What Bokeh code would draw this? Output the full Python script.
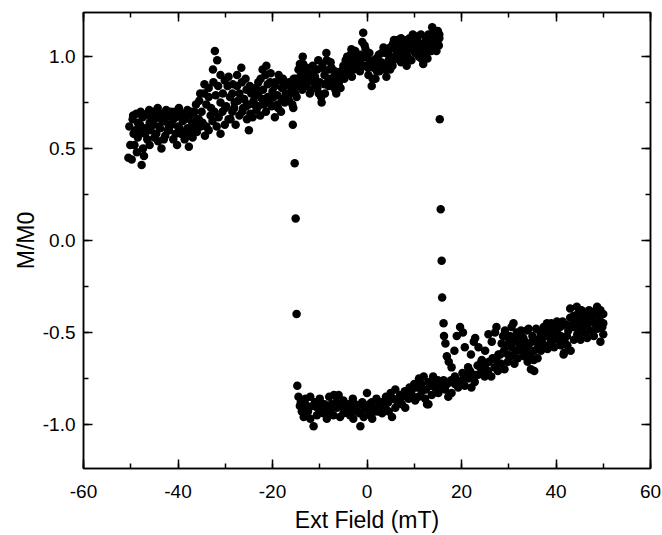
from bokeh.plotting import figure
from bokeh.models import (Range1d, LinearAxis, SingleIntervalTicker, ColumnDataSource,
                          NumeralTickFormatter, CustomJSTickFormatter)
from bokeh.embed import file_html
from bokeh.resources import INLINE

# ---------------- data ----------------
# upper branch, upper edge
up_a_x = [-50.3, -49.6, -48.8, -47.9, -47.0, -46.1, -45.2, -44.3, -43.4, -42.5, -41.6, -40.7, -39.8, -38.9,
          -38.0, -37.1, -36.2, -35.3, -34.4, -33.5, -32.6, -32.2, -31.7, -31.0, -30.1, -29.3, -28.4, -27.5,
          -26.6, -25.7, -24.8, -23.9, -23.0, -22.1, -21.3, -20.4, -19.5, -18.7, -17.8, -16.9, -16.0, -15.1,
          -14.2, -13.6, -12.8, -12.0, -11.1, -10.3, -9.4, -8.6, -7.7, -6.8, -5.9, -5.0, -4.2, -3.3, -2.4,
          -1.6, -0.8, -0.3, 0.5, 1.4, 2.3, 3.1, 4.0, 4.9, 5.7, 6.5, 7.2, 8.0, 8.9, 9.7, 10.6, 11.4, 12.2,
          13.0, 13.8, 14.6, 15.2]
up_a_y = [0.62, 0.66, 0.69, 0.70, 0.68, 0.71, 0.70, 0.72, 0.69, 0.71, 0.68, 0.70, 0.72, 0.69,
          0.71, 0.70, 0.74, 0.80, 0.85, 0.83, 0.93, 1.03, 0.98, 0.90, 0.87, 0.89, 0.85, 0.90,
          0.94, 0.88, 0.84, 0.80, 0.86, 0.93, 0.95, 0.91, 0.86, 0.90, 0.88, 0.85, 0.83, 0.88,
          0.96, 1.00, 0.94, 0.90, 0.93, 0.98, 0.96, 1.02, 0.97, 0.92, 0.88, 0.95, 1.00, 1.04, 0.99,
          0.97, 1.13, 1.04, 0.98, 0.94, 0.97, 1.02, 0.96, 1.05, 1.09, 1.06, 1.10, 1.03, 1.07, 1.12, 1.09, 1.12, 1.01,
          1.08, 1.16, 1.10, 1.06]

# upper branch, between upper edge and middle
up_c_x = [-49.5, -48.5, -47.5, -46.5, -45.5, -44.5, -43.5, -42.5, -41.5, -40.5, -39.5, -38.5, -37.5, -36.5,
          -35.5, -34.5, -33.5, -32.5, -31.5, -30.5, -29.5, -28.5, -27.5, -26.5, -25.5, -24.5, -23.5, -22.5,
          -21.5, -20.5, -19.5, -18.5, -17.5, -16.5, -15.5, -14.5, -13.5, -12.5, -11.5, -10.5, -9.5, -8.5,
          -7.5, -6.5, -5.5, -4.5, -3.5, -2.5, -1.5, -0.5, 0.5, 1.5, 2.5, 3.5, 4.5, 5.5, 6.5, 7.5, 8.5, 9.5,
          10.5, 11.5, 12.5, 13.5, 14.5, 15.3]
up_c_y = [0.68, 0.64, 0.67, 0.69, 0.66, 0.68, 0.66, 0.67, 0.70, 0.67, 0.68, 0.66, 0.68, 0.70,
          0.76, 0.80, 0.78, 0.86, 0.84, 0.80, 0.84, 0.80, 0.84, 0.86, 0.82, 0.80, 0.83, 0.88,
          0.90, 0.86, 0.84, 0.87, 0.84, 0.86, 0.88, 0.93, 0.96, 0.91, 0.95, 0.93, 0.94, 0.98,
          0.94, 0.90, 0.92, 0.98, 1.01, 1.03, 1.01, 1.06, 1.02, 0.98, 1.01, 1.05, 1.03, 1.07, 1.09, 1.06, 1.09, 1.08,
          1.11, 1.07, 1.09, 1.11, 1.14, 1.12]

# upper branch, middle
up_m_x = [-49.0, -48.0, -47.0, -46.0, -45.0, -44.0, -43.0, -42.0, -41.0, -40.0, -39.0, -38.0, -37.0, -36.0,
          -35.0, -34.0, -33.0, -32.0, -31.0, -30.0, -29.0, -28.0, -27.0, -26.0, -25.0, -24.0, -23.0, -22.0,
          -21.0, -20.0, -19.0, -18.0, -17.0, -16.0, -15.0, -14.0, -13.0, -12.0, -11.0, -10.0, -9.0, -8.0,
          -7.0, -6.0, -5.0, -4.0, -3.0, -2.0, -1.0, 0.0, 1.0, 2.0, 3.0, 4.0, 5.0, 6.0, 7.0, 8.0, 9.0, 10.0,
          11.0, 12.0, 13.0, 14.0, 15.0]
up_m_y = [0.60, 0.63, 0.58, 0.64, 0.66, 0.62, 0.65, 0.63, 0.66, 0.62, 0.65, 0.61, 0.64, 0.66,
          0.70, 0.74, 0.72, 0.79, 0.75, 0.72, 0.78, 0.75, 0.80, 0.77, 0.74, 0.76, 0.79, 0.82,
          0.85, 0.81, 0.79, 0.83, 0.78, 0.81, 0.84, 0.90, 0.92, 0.87, 0.89, 0.86, 0.90, 0.93,
          0.89, 0.86, 0.89, 0.96, 0.95, 1.00, 1.08, 1.00, 0.95, 0.99, 0.97, 1.02, 1.00, 1.04, 1.02, 0.98, 1.10, 1.03,
          1.06, 1.05, 1.12, 1.13, 1.14]

# upper branch, between middle and lower edge
up_d_x = [-50.1, -49.4, -48.7, -48.1, -47.4, -46.8, -46.0, -45.3, -44.6, -43.8, -43.0, -42.2, -41.4, -40.5,
          -39.7, -38.8, -38.0, -37.2, -36.4, -35.6, -34.8, -34.0, -33.1, -32.3, -31.4, -30.6, -29.8, -28.9,
          -28.1, -27.3, -26.4, -25.6, -24.7, -23.8, -23.0, -22.2, -21.4, -20.6, -19.8, -19.0, -18.2, -17.4,
          -16.6, -15.8, -15.2, -14.5, -13.7, -12.9, -12.1, -11.3, -10.5, -9.7, -9.0, -8.2, -7.3, -6.5, -5.6,
          -4.8, -4.0, -3.2, -2.3, -1.5, -0.7, 0.2, 1.2, 2.1, 2.9, 3.8, 4.6, 5.4, 6.2, 7.0, 7.8, 8.6, 9.4,
          10.2, 11.0, 11.8, 12.8, 13.6, 14.3, 15.0]
up_d_y = [0.52, 0.58, 0.48, 0.59, 0.50, 0.61, 0.52, 0.63, 0.58, 0.61, 0.55, 0.60, 0.63, 0.58,
          0.61, 0.59, 0.57, 0.60, 0.62, 0.66, 0.64, 0.62, 0.68, 0.70, 0.67, 0.70, 0.73, 0.66,
          0.72, 0.76, 0.70, 0.73, 0.69, 0.74, 0.73, 0.77, 0.70, 0.76, 0.78, 0.74, 0.70, 0.75,
          0.79, 0.74, 0.80, 0.86, 0.82, 0.84, 0.80, 0.87, 0.83, 0.78, 0.85, 0.88, 0.84, 0.80, 0.83,
          0.88, 0.91, 0.89, 0.94, 0.92, 1.00, 0.94, 0.88, 0.92, 0.96, 0.93, 0.98, 0.95, 1.00, 0.99, 1.04, 1.00, 0.98,
          1.02, 1.00, 1.04, 0.99, 1.03, 1.06, 1.09]

# upper branch, lower edge
up_b_x = [-50.5, -49.8, -49.2, -48.5, -47.7, -47.2, -46.5, -45.8, -45.0, -44.2, -43.5, -42.7, -41.9, -41.0,
          -40.2, -39.4, -38.6, -37.7, -36.9, -36.0, -35.2, -34.3, -33.5, -32.7, -31.8, -31.0, -30.1, -29.3,
          -28.5, -27.8, -27.0, -26.2, -25.4, -25.0, -24.2, -23.4, -22.6, -21.8, -21.0, -20.2, -19.5, -18.8,
          -18.0, -17.2, -16.5, -15.6, -14.9, -14.1, -13.4, -12.6, -11.8, -11.0, -10.2, -9.6, -8.9, -8.1,
          -7.4, -6.7, -6.0, -5.2, -4.4, -3.6, -2.8, -2.0, -1.2, -0.5, 0.3, 1.0, 1.8, 2.6, 3.4, 4.1, 4.9,
          5.6, 6.4, 7.2, 7.9, 8.4, 9.2, 10.0, 10.8, 11.5, 11.9, 12.6, 13.3, 14.0, 14.7, 15.3]
up_b_y = [0.45, 0.44, 0.52, 0.56, 0.41, 0.46, 0.55, 0.60, 0.56, 0.54, 0.50, 0.57, 0.60, 0.55,
          0.52, 0.58, 0.55, 0.51, 0.56, 0.59, 0.62, 0.57, 0.60, 0.65, 0.62, 0.58, 0.63, 0.66,
          0.70, 0.63, 0.68, 0.72, 0.66, 0.60, 0.67, 0.71, 0.68, 0.74, 0.78, 0.73, 0.67, 0.72,
          0.77, 0.80, 0.76, 0.72, 0.78, 0.84, 0.88, 0.86, 0.82, 0.85, 0.80, 0.75, 0.80, 0.84,
          0.87, 0.82, 0.85, 0.90, 0.93, 0.97, 0.93, 0.96, 0.99, 0.95, 0.90, 0.84, 0.88, 0.92, 0.95, 0.89, 0.93,
          0.98, 1.01, 0.97, 1.00, 0.95, 1.04, 1.07, 1.04, 0.99, 0.96, 1.02, 1.05, 1.08, 1.03, 1.10]

# switching points
sw_x = [-15.7, -15.3, -15.1, -14.9, -14.75, 15.4, 15.6, 15.8, 15.9, 16.2]
sw_y = [0.63, 0.42, 0.12, -0.40, -0.79, 0.66, 0.17, -0.11, -0.31, -0.45]

# lower branch, lower edge
lo_c_x = [-14.5, -13.8, -13.4, -12.7, -12.0, -11.3, -10.6, -9.9, -9.2, -8.5, -7.8, -7.1, -6.4, -5.7,
          -5.0, -4.3, -3.6, -2.9, -2.1, -1.4, -0.7, 0.0, 0.7, 1.1, 1.8, 2.5, 3.2, 3.9, 4.6, 5.3, 6.0,
          6.7, 7.4, 8.1, 8.8, 9.5, 10.2, 10.9, 11.6, 12.3, 13.0, 13.7, 14.4, 15.1, 15.8, 16.5, 17.2,
          17.9, 18.6, 19.3, 20.0, 20.7, 21.4, 22.1, 22.8, 23.5, 24.2, 24.9, 25.6, 26.3, 27.0, 27.7,
          28.4, 29.1, 29.8, 30.5, 31.2, 31.9, 32.6, 33.3, 34.0, 34.7, 35.4, 36.1, 36.8, 37.5, 38.2,
          38.9, 39.6, 40.3, 41.0, 41.7, 42.4, 43.1, 43.8, 44.5, 45.2, 45.9, 46.6, 47.3, 48.0, 48.7,
          49.4, 50.0]
lo_c_y = [-0.85, -0.93, -0.96, -0.90, -0.97, -1.01, -0.95, -0.92, -0.94, -0.97, -0.93, -0.95, -0.91, -0.96,
          -0.94, -0.92, -0.95, -0.97, -0.93, -1.01, -0.96, -0.92, -0.95, -0.97, -0.93, -0.90, -0.94, -0.91, -0.93, -0.96, -0.91,
          -0.87, -0.89, -0.91, -0.86, -0.84, -0.87, -0.85, -0.82, -0.86, -0.89, -0.84, -0.80, -0.83, -0.79, -0.81, -0.85,
          -0.83, -0.78, -0.80, -0.76, -0.79, -0.75, -0.80, -0.77, -0.73, -0.70, -0.74, -0.71, -0.74, -0.69, -0.71,
          -0.67, -0.70, -0.66, -0.63, -0.67, -0.64, -0.60, -0.63, -0.66, -0.70, -0.71, -0.64, -0.60, -0.57, -0.59,
          -0.55, -0.58, -0.54, -0.57, -0.61, -0.57, -0.60, -0.54, -0.51, -0.54, -0.50, -0.53, -0.49, -0.52, -0.48,
          -0.55, -0.51]

# lower branch, middle
lo_f_x = [-14.2, -13.5, -12.5, -11.5, -10.5, -9.5, -8.5, -7.5, -6.5, -5.5, -4.5, -3.5, -2.5, -1.5, -0.5,
          0.5, 1.5, 2.5, 3.5, 4.5, 5.5, 6.5, 7.5, 8.5, 9.5, 10.5, 11.5, 12.5, 13.5, 14.5, 15.5, 16.2, 17.0,
          17.8, 18.6, 19.4, 20.2, 21.0, 21.8, 22.6, 23.4, 24.2, 25.0, 25.8, 26.6, 27.4, 28.2, 29.0, 29.8,
          30.6, 31.4, 32.2, 33.0, 33.8, 34.6, 35.4, 36.2, 37.0, 37.8, 38.6, 39.4, 40.2, 41.0, 41.8, 42.6,
          43.4, 44.2, 45.0, 45.8, 46.6, 47.4, 48.2, 49.0, 49.8]
lo_f_y = [-0.90, -0.88, -0.93, -0.90, -0.91, -0.89, -0.91, -0.89, -0.88, -0.90, -0.91, -0.92, -0.89, -0.94, -0.91,
          -0.89, -0.91, -0.93, -0.89, -0.88, -0.86, -0.88, -0.85, -0.84, -0.81, -0.80, -0.78, -0.81, -0.79, -0.77, -0.80, -0.76, -0.78,
          -0.76, -0.74, -0.77, -0.72, -0.74, -0.71, -0.73, -0.68, -0.66, -0.68, -0.66, -0.64, -0.65, -0.62, -0.60, -0.62,
          -0.58, -0.60, -0.56, -0.58, -0.60, -0.62, -0.60, -0.58, -0.55, -0.52, -0.50, -0.52, -0.50, -0.52, -0.55, -0.49,
          -0.46, -0.44, -0.47, -0.44, -0.46, -0.42, -0.45, -0.41, -0.47]

# lower branch, upper side (-15 .. 15)
lo_e_x = [-14.0, -13.0, -12.0, -11.0, -10.0, -9.0, -8.0, -7.0, -6.0, -5.0, -4.0, -3.0, -2.0, -1.0, 0.0,
          1.0, 2.0, 3.0, 4.0, 5.0, 6.0, 7.0, 8.0, 9.0, 10.0, 11.0, 12.0, 12.7, 13.0, 14.0, 15.0]
lo_e_y = [-0.88, -0.86, -0.85, -0.88, -0.86, -0.89, -0.85, -0.84, -0.84, -0.87, -0.89, -0.86, -0.90, -0.88, -0.83,
          -0.88, -0.86, -0.88, -0.85, -0.83, -0.81, -0.84, -0.82, -0.80, -0.78, -0.75, -0.74, -0.89, -0.77, -0.74, -0.76]

# lower branch, upper trace after switching
lo_d_x = [16.3, 16.6, 16.9, 17.3, 17.9, 18.5, 19.0, 19.7, 20.3, 20.7, 21.4, 22.0, 22.6, 22.9, 23.6, 24.3,
          25.0, 25.7, 26.4, 27.1, 27.4, 27.8, 28.5, 29.2, 29.9, 30.6, 31.0, 31.7, 32.4, 33.1, 33.8, 34.2,
          34.9, 35.3, 36.0, 36.7, 37.4, 38.1, 38.8, 39.5, 40.2, 40.9, 41.6, 42.3, 43.0, 43.7, 44.4, 45.1,
          45.8, 46.5, 47.2, 47.9, 48.7, 49.4, 50.0]
lo_d_y = [-0.52, -0.56, -0.63, -0.66, -0.69, -0.60, -0.52, -0.47, -0.50, -0.58, -0.69, -0.62, -0.55, -0.53, -0.58, -0.65,
          -0.60, -0.51, -0.55, -0.50, -0.47, -0.62, -0.56, -0.49, -0.53, -0.47, -0.45, -0.50, -0.58, -0.53, -0.49, -0.48,
          -0.55, -0.65, -0.55, -0.50, -0.47, -0.45, -0.53, -0.48, -0.44, -0.47, -0.62, -0.52, -0.37, -0.41, -0.36, -0.42,
          -0.46, -0.40, -0.43, -0.39, -0.36, -0.44, -0.40]

# lower branch, upper side at high field
lo_g_x = [28.8, 29.6, 30.2, 31.0, 31.8, 32.6, 33.4, 34.2, 35.0, 35.8, 36.6, 37.4, 38.2, 39.0, 39.8,
          40.6, 41.4, 42.2, 43.0, 43.8, 44.6, 45.4, 46.2, 47.0, 47.8, 48.6, 49.4, 50.0]
lo_g_y = [-0.52, -0.57, -0.52, -0.55, -0.52, -0.49, -0.55, -0.57, -0.52, -0.48, -0.53, -0.50, -0.48, -0.45, -0.50,
          -0.47, -0.44, -0.46, -0.42, -0.47, -0.40, -0.38, -0.42, -0.38, -0.44, -0.40, -0.38, -0.45]

x_ticks_interval = 20
y_ticks_interval = 0.5

# ---------------- figure ----------------
all_x = up_a_x + up_c_x + up_m_x + up_d_x + up_b_x + sw_x + lo_c_x + lo_f_x + lo_e_x + lo_d_x + lo_g_x
all_y = up_a_y + up_c_y + up_m_y + up_d_y + up_b_y + sw_y + lo_c_y + lo_f_y + lo_e_y + lo_d_y + lo_g_y
src = ColumnDataSource(data=dict(x=all_x, y=all_y))

FONT = "Liberation Sans"

p = figure(width=662, height=535, output_backend="svg", toolbar_location=None,
           x_range=Range1d(-60, 60), y_range=Range1d(-1.24, 1.24),
           x_axis_location=None, y_axis_location=None)
p.min_border_left = 83
p.min_border_right = 12
p.min_border_top = 12
p.min_border_bottom = 67
p.xgrid.visible = False
p.ygrid.visible = False
p.outline_line_color = "black"
p.outline_line_width = 1.5
p.background_fill_color = "white"
p.border_fill_color = "white"

p.scatter("x", "y", source=src, size=8.5, marker="circle", fill_color="black", line_color=None)


def style_axis(ax, show_labels):
    ax.axis_line_color = "black"
    ax.axis_line_width = 1.5
    ax.major_tick_in = 9
    ax.major_tick_out = 0
    ax.minor_tick_in = 5
    ax.minor_tick_out = 0
    ax.major_tick_line_width = 1.5
    ax.minor_tick_line_width = 1.5
    ax.major_tick_line_color = "black"
    ax.minor_tick_line_color = "black"
    if show_labels:
        ax.major_label_text_font = FONT
        ax.major_label_text_font_size = "19px"
        ax.major_label_text_color = "black"
        ax.axis_label_text_font = FONT
        ax.axis_label_text_font_size = "23px"
        ax.axis_label_text_font_style = "normal"
        ax.axis_label_text_color = "black"
    else:
        ax.formatter = CustomJSTickFormatter(code="return ''")
        ax.major_label_text_font_size = "0px"
        ax.major_label_standoff = 0


xb = LinearAxis(ticker=SingleIntervalTicker(interval=x_ticks_interval, num_minor_ticks=2),
                formatter=NumeralTickFormatter(format="0"),
                axis_label="Ext Field (mT)")
style_axis(xb, True)
xb.major_label_standoff = 16
xb.axis_label_standoff = 6
p.add_layout(xb, "below")

xt = LinearAxis(ticker=SingleIntervalTicker(interval=x_ticks_interval, num_minor_ticks=2))
style_axis(xt, False)
p.add_layout(xt, "above")

yl = LinearAxis(ticker=SingleIntervalTicker(interval=y_ticks_interval, num_minor_ticks=2),
                formatter=NumeralTickFormatter(format="0.0"),
                axis_label="M/M0")
style_axis(yl, True)
yl.major_label_standoff = 8
yl.axis_label_standoff = 1
p.add_layout(yl, "left")

yr = LinearAxis(ticker=SingleIntervalTicker(interval=y_ticks_interval, num_minor_ticks=2))
style_axis(yr, False)
p.add_layout(yr, "right")

open("out.html", "w").write(file_html(p, INLINE))
